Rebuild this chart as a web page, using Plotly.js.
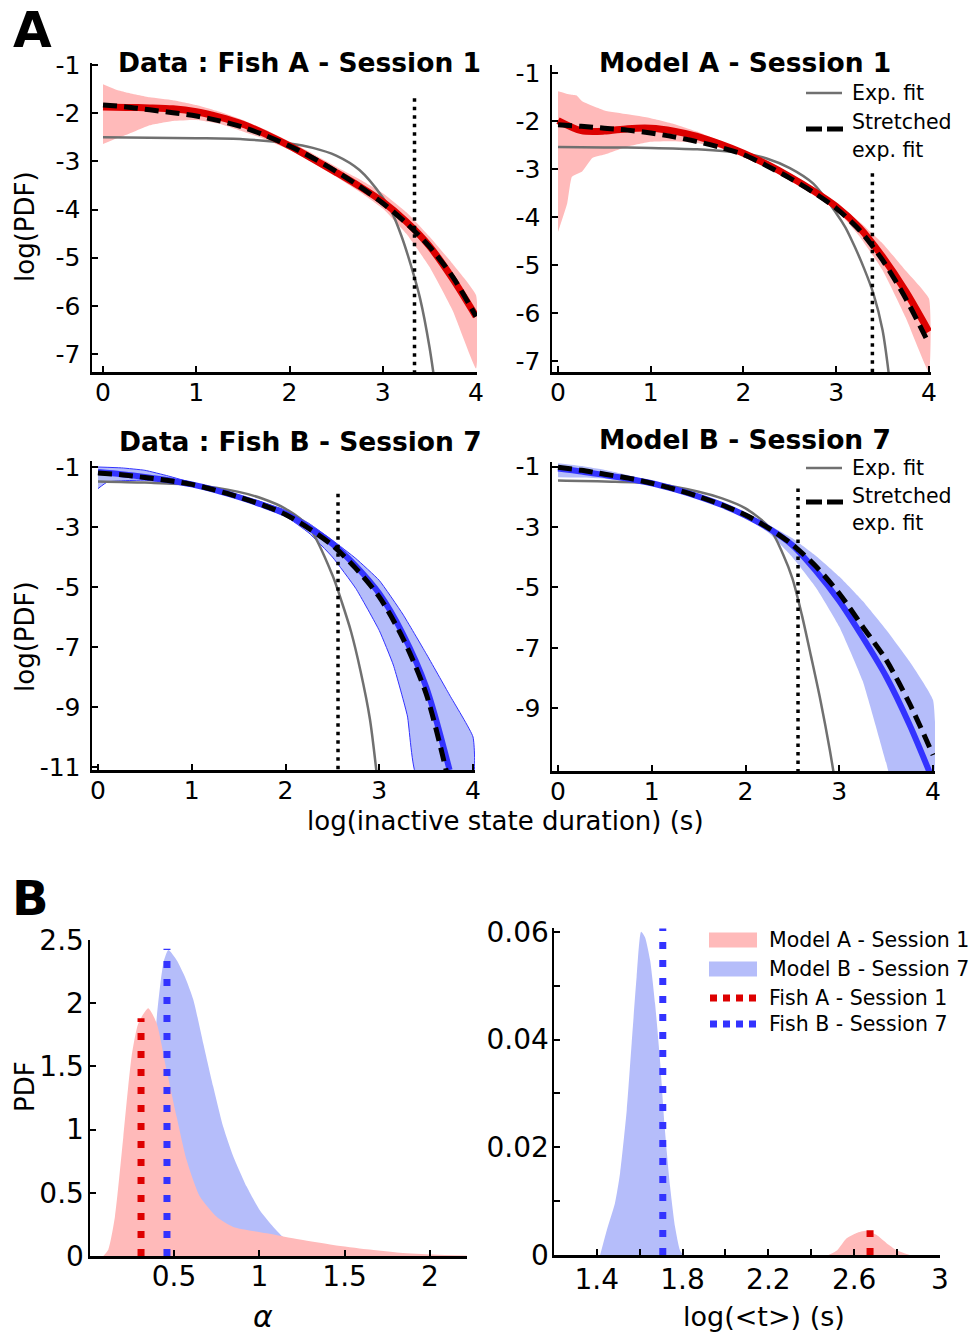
<!DOCTYPE html>
<html><head><meta charset="utf-8">
<script src="https://cdn.plot.ly/plotly-3.0.1.min.js"></script>
<style>html,body{margin:0;padding:0;background:#fff}#chart{width:970px;height:1336px}</style>
</head><body><div id="chart"></div>
<script>
// ---------- Panel A1 : Data Fish A - Session 1 ----------
const a1X = [0,0.25,0.5,0.75,1,1.25,1.5,1.75,2,2.25,2.5,2.75,3,3.25,3.5,3.75,4];
const a1Mean = [-1.87,-1.88,-1.89,-1.91,-1.97,-2.08,-2.23,-2.44,-2.68,-2.95,-3.23,-3.52,-3.84,-4.25,-4.76,-5.44,-6.22];
const a1Stretch = [-1.83,-1.87,-1.93,-1.99,-2.06,-2.16,-2.29,-2.47,-2.68,-2.93,-3.21,-3.52,-3.87,-4.28,-4.77,-5.40,-6.22];
const a1ExpX = [0,0.5,1,1.5,2,2.25,2.5,2.75,3,3.1,3.2,3.3,3.4,3.5,3.6];
const a1Exp = [-2.50,-2.51,-2.52,-2.54,-2.63,-2.72,-2.88,-3.18,-3.75,-4.07,-4.55,-5.15,-5.85,-6.85,-8.2];
const a1BandX = [0,0.15,0.25,0.5,0.75,1,1.25,1.5,1.75,2,2.25,2.5,2.75,3,3.25,3.5,3.75,4];
const a1Up = [-1.40,-1.52,-1.57,-1.67,-1.73,-1.83,-1.97,-2.14,-2.35,-2.59,-2.84,-3.11,-3.37,-3.66,-4.05,-4.56,-5.13,-5.78];
const a1Lo = [-2.64,-2.52,-2.45,-2.25,-2.16,-2.14,-2.22,-2.38,-2.55,-2.76,-3.03,-3.32,-3.63,-3.98,-4.50,-5.19,-6.10,-7.30];
const a1CutX = [3.34,3.34];
const a1CutY = [-1.69,-7.5];

// ---------- Panel A2 : Model A - Session 1 ----------
const a2X = [0,0.25,0.5,0.75,1,1.25,1.5,1.75,2,2.25,2.5,2.75,3,3.25,3.5,3.75,4];
const a2Mean = [-1.99,-2.20,-2.21,-2.16,-2.15,-2.21,-2.32,-2.48,-2.67,-2.90,-3.16,-3.45,-3.78,-4.22,-4.83,-5.55,-6.39];
const a2Stretch = [-2.08,-2.11,-2.15,-2.19,-2.25,-2.33,-2.43,-2.55,-2.70,-2.93,-3.19,-3.48,-3.82,-4.27,-4.90,-5.70,-6.64];
const a2ExpX = [0,0.5,1,1.5,2,2.25,2.5,2.75,3,3.1,3.2,3.3,3.4,3.5,3.6];
const a2Exp = [-2.54,-2.55,-2.56,-2.59,-2.67,-2.78,-2.98,-3.30,-3.92,-4.22,-4.62,-5.07,-5.59,-6.36,-7.8];
const a2UpX = [0,0.13,0.2,0.26,0.5,0.75,1,1.25,1.5,1.75,2,2.25,2.5,2.75,3,3.25,3.5,3.75,4];
const a2Up = [-1.38,-1.45,-1.47,-1.59,-1.78,-1.86,-1.94,-2.06,-2.22,-2.42,-2.64,-2.85,-3.09,-3.38,-3.71,-4.10,-4.55,-5.12,-5.70];
const a2LoX = [0,0.1,0.15,0.26,0.37,0.5,0.75,1,1.25,1.5,1.75,2,2.25,2.5,2.75,3,3.25,3.5,3.75,4];
const a2Lo = [-4.31,-3.71,-3.16,-3.05,-2.77,-2.70,-2.53,-2.43,-2.42,-2.46,-2.57,-2.74,-2.97,-3.23,-3.52,-3.85,-4.40,-5.11,-6.10,-7.23];
const a2CutX = [3.39,3.39];
const a2CutY = [-3.09,-7.5];

// ---------- Panel A3 : Data Fish B - Session 7 ----------
const a3X = [0,0.25,0.5,0.75,1,1.25,1.5,1.75,2,2.25,2.5,2.75,3,3.25,3.5,3.75];
const a3Mean = [-1.17,-1.24,-1.33,-1.44,-1.58,-1.77,-2.00,-2.26,-2.56,-3.02,-3.56,-4.30,-5.22,-6.55,-8.33,-11.1];
const a3Stretch = [-1.20,-1.26,-1.35,-1.45,-1.58,-1.77,-2.00,-2.26,-2.58,-3.05,-3.61,-4.38,-5.33,-6.70,-8.56,-11.6];
const a3ExpX = [0,0.5,1,1.5,1.75,2,2.25,2.5,2.6,2.7,2.8,2.9,3.0];
const a3Exp = [-1.48,-1.52,-1.59,-1.83,-2.05,-2.39,-3.0,-4.6,-5.5,-6.5,-7.8,-9.4,-12.0];
const a3UpX = [0,0.25,0.5,0.75,1,1.25,1.5,1.75,2,2.25,2.5,2.75,3,3.25,3.5,3.75,4,4];
const a3Up = [-1.00,-1.03,-1.11,-1.30,-1.52,-1.72,-1.94,-2.17,-2.44,-2.88,-3.44,-4.05,-4.78,-5.90,-7.22,-8.6,-10.0,-11.3];
const a3LoX = [0,0.1,0.25,0.5,0.75,1,1.25,1.5,1.75,2,2.25,2.5,2.75,3,3.15,3.3,3.4];
const a3Lo = [-1.72,-1.50,-1.46,-1.44,-1.52,-1.64,-1.83,-2.06,-2.33,-2.64,-3.20,-4.00,-5.05,-6.45,-7.6,-9.3,-11.3];
const a3CutX = [2.56,2.56];
const a3CutY = [-1.89,-11.3];

// ---------- Panel A4 : Model B - Session 7 ----------
const a4X = [0,0.25,0.5,0.75,1,1.25,1.5,1.75,2,2.25,2.5,2.75,3,3.25,3.5,3.75,4];
const a4Mean = [-1.06,-1.16,-1.28,-1.40,-1.55,-1.75,-1.99,-2.27,-2.62,-3.05,-3.60,-4.45,-5.45,-6.65,-7.95,-9.55,-11.4];
const a4Stretch = [-1.02,-1.12,-1.25,-1.38,-1.55,-1.75,-1.99,-2.27,-2.60,-3.04,-3.58,-4.30,-5.20,-6.30,-7.40,-8.85,-10.55];
const a4ExpX = [0,0.5,1,1.5,1.75,2,2.25,2.4,2.5,2.6,2.7,2.8,2.9,3.0];
const a4Exp = [-1.46,-1.49,-1.55,-1.83,-2.05,-2.38,-3.0,-3.9,-4.7,-5.9,-7.3,-8.75,-10.4,-12.3];
const a4UpX = [0,0.25,0.5,0.75,1,1.25,1.5,1.75,2,2.25,2.5,2.75,3,3.25,3.5,3.75,4,4];
const a4Up = [-0.89,-0.98,-1.11,-1.28,-1.50,-1.72,-1.96,-2.23,-2.55,-2.93,-3.37,-3.95,-4.64,-5.45,-6.4,-7.45,-8.73,-11.3];
const a4LoX = [0,0.25,0.5,0.75,1,1.25,1.5,1.75,2,2.25,2.5,2.75,3,3.25,3.5,3.55];
const a4Lo = [-1.35,-1.36,-1.40,-1.48,-1.61,-1.80,-2.05,-2.33,-2.66,-3.20,-4.00,-5.00,-6.30,-8.10,-10.8,-11.3];
const a4CutX = [2.56,2.56];
const a4CutY = [-1.72,-11.3];

// ---------- Panel B1 : alpha ----------
const b1PinkX = [0.086,0.115,0.154,0.203,0.252,0.291,0.349,0.399,0.457,0.516,0.574,0.652,0.75,0.847,1.043,1.238,1.433,1.629,1.824,2.019,2.215];
const b1PinkY = [0,0.05,0.31,0.94,1.58,1.84,1.96,1.84,1.47,1.10,0.76,0.47,0.31,0.23,0.18,0.13,0.087,0.053,0.026,0.011,0.003];
const b1BlueX = [0.30,0.35,0.38,0.40,0.42,0.44,0.467,0.516,0.564,0.613,0.672,0.730,0.789,0.847,0.926,1.004,1.082,1.140,1.2,1.3];
const b1BlueY = [0,0.8,1.5,1.9,2.15,2.33,2.42,2.34,2.21,2.03,1.68,1.34,1.02,0.79,0.55,0.36,0.23,0.15,0.1,0.05];
const b1FishAX = [0.307,0.307], b1FishAY = [0,1.88];
const b1FishBX = [0.459,0.459], b1FishBY = [0,2.43];

// ---------- Panel B2 : log(<t>) ----------
const b2BlueX = [1.416,1.447,1.485,1.509,1.540,1.563,1.586,1.607,1.625,1.649,1.672,1.695,1.718,1.742,1.765,1.788,1.804];
const b2BlueY = [0,0.0046,0.0096,0.0152,0.0269,0.0393,0.0516,0.0600,0.0590,0.0547,0.0467,0.0362,0.0232,0.0127,0.0053,0.0009,0];
const b2PinkX = [2.48,2.521,2.565,2.611,2.658,2.705,2.751,2.798,2.86];
const b2PinkY = [0,0.0009,0.0031,0.0041,0.0045,0.0037,0.0022,0.0009,0];
const b2FishAX = [2.674,2.674], b2FishAY = [0,0.0046];
const b2FishBX = [1.708,1.708], b2FishBY = [0,0.0606];

// ---------- styling ----------
const FONT = 'DejaVu Sans';
const PINK = 'rgb(255,186,186)', BLUEF = 'rgb(181,189,250)';
const RED = 'rgb(221,0,0)', BLUE = 'rgb(51,51,255)', GRAY = 'rgb(112,112,112)';
const W = 970, H = 1336;
const px = v => v / W, py = v => 1 - v / H;

function band(xu, yu, xl, yl, ax, ay, color, edge) {
  return {x: xu.concat(xl.slice().reverse()), y: yu.concat(yl.slice().reverse()),
    xaxis: ax, yaxis: ay, mode: 'lines', fill: 'toself', fillcolor: color,
    line: edge ? {color: edge, width: 1, shape: 'spline', smoothing: 0.4} : {width: 0, shape: 'spline', smoothing: 0.4},
    hoverinfo: 'skip', showlegend: false};
}
function line(x, y, ax, ay, color, width, dash, shape) {
  return {x: x, y: y, xaxis: ax, yaxis: ay, mode: 'lines',
    line: {color: color, width: width, dash: dash || 'solid', shape: shape || 'spline', smoothing: 0.8},
    hoverinfo: 'skip', showlegend: false};
}
function area(x, y, ax, ay, color) {
  return {x: x, y: y, xaxis: ax, yaxis: ay, mode: 'lines', fill: 'tozeroy', fillcolor: color,
    line: {width: 0, shape: 'spline', smoothing: 0.6}, hoverinfo: 'skip', showlegend: false};
}
const DASH = '14px,7px', CUT = '3.5px,5px', FISH = '7px,11px';

const traces = [
  band(a1BandX, a1Up, a1BandX, a1Lo, 'x', 'y', PINK),
  line(a1ExpX, a1Exp, 'x', 'y', GRAY, 2.5),
  line(a1X, a1Mean, 'x', 'y', RED, 7),
  line(a1X, a1Stretch, 'x', 'y', 'black', 5, DASH),
  line(a1CutX, a1CutY, 'x', 'y', 'black', 3.5, CUT, 'linear'),

  band(a2UpX, a2Up, a2LoX, a2Lo, 'x2', 'y2', PINK),
  line(a2ExpX, a2Exp, 'x2', 'y2', GRAY, 2.5),
  line(a2X, a2Mean, 'x2', 'y2', RED, 7),
  line(a2X, a2Stretch, 'x2', 'y2', 'black', 5, DASH),
  line(a2CutX, a2CutY, 'x2', 'y2', 'black', 3.5, CUT, 'linear'),

  band(a3UpX, a3Up, a3LoX, a3Lo, 'x3', 'y3', BLUEF, BLUE),
  line(a3ExpX, a3Exp, 'x3', 'y3', GRAY, 2.5),
  line(a3X, a3Mean, 'x3', 'y3', BLUE, 6),
  line(a3X, a3Stretch, 'x3', 'y3', 'black', 5, DASH),
  line(a3CutX, a3CutY, 'x3', 'y3', 'black', 3.5, CUT, 'linear'),

  band(a4UpX, a4Up, a4LoX, a4Lo, 'x4', 'y4', BLUEF),
  line(a4ExpX, a4Exp, 'x4', 'y4', GRAY, 2.5),
  line(a4X, a4Mean, 'x4', 'y4', BLUE, 6),
  line(a4X, a4Stretch, 'x4', 'y4', 'black', 5, DASH),
  line(a4CutX, a4CutY, 'x4', 'y4', 'black', 3.5, CUT, 'linear'),

  area(b1BlueX, b1BlueY, 'x5', 'y5', BLUEF),
  area(b1PinkX, b1PinkY, 'x5', 'y5', PINK),
  line(b1FishAX, b1FishAY, 'x5', 'y5', RED, 7, FISH, 'linear'),
  line(b1FishBX, b1FishBY, 'x5', 'y5', BLUE, 7, FISH, 'linear'),

  area(b2BlueX, b2BlueY, 'x6', 'y6', BLUEF),
  area(b2PinkX, b2PinkY, 'x6', 'y6', PINK),
  line(b2FishAX, b2FishAY, 'x6', 'y6', RED, 7, FISH, 'linear'),
  line(b2FishBX, b2FishBY, 'x6', 'y6', BLUE, 7, FISH, 'linear')
];

function axis(dom, range, tickvals, ticktext, size, anchor, extra) {
  return Object.assign({
    domain: dom, range: range, anchor: anchor, showline: true, linewidth: 2.5, linecolor: 'black',
    mirror: false, ticks: 'inside', ticklen: 6, tickwidth: 2, tickcolor: 'black',
    showgrid: false, zeroline: false, tickmode: 'array', tickvals: tickvals, ticktext: ticktext,
    tickfont: {family: FONT, size: size, color: 'black'}, fixedrange: true
  }, extra || {});
}
const xA = [0,1,2,3,4], xAt = ['0','1','2','3','4'];
const TA = 25, TB = 28;

const layout = {
  width: W, height: H, margin: {l: 0, r: 0, t: 0, b: 0},
  paper_bgcolor: 'white', plot_bgcolor: 'rgba(0,0,0,0)', showlegend: false,
  font: {family: FONT, color: 'black'},
  xaxis:  axis([px(92), px(477)], [-0.118, 4.01], xA, xAt, TA, 'y', {ticklabelstandoff: -4}),
  yaxis:  axis([py(372), py(63)], [-7.374, -0.958], [-7,-6,-5,-4,-3,-2,-1], ['-7','-6','-5','-4','-3','-2','-1'], TA, 'x', {ticklabelstandoff: 4}),
  xaxis2: axis([px(552), px(931)], [-0.065, 4.022], xA, xAt, TA, 'y2', {ticklabelstandoff: -4}),
  yaxis2: axis([py(372), py(65)], [-7.229, -0.833], [-7,-6,-5,-4,-3,-2,-1], ['-7','-6','-5','-4','-3','-2','-1'], TA, 'x2', {ticklabelstandoff: 4}),
  xaxis3: axis([px(92), px(475)], [-0.064, 4.021], xA, xAt, TA, 'y3', {ticklabelstandoff: -4}),
  yaxis3: axis([py(770), py(461)], [-11.1, -0.8], [-11,-9,-7,-5,-3,-1], ['-11','-9','-7','-5','-3','-1'], TA, 'x3', {ticklabelstandoff: 4}),
  xaxis4: axis([px(552), px(935)], [-0.064, 4.021], xA, xAt, TA, 'y4', {ticklabelstandoff: -4}),
  yaxis4: axis([py(771), py(462)], [-11.08, -0.845], [-9,-7,-5,-3,-1], ['-9','-7','-5','-3','-1'], TA, 'x4', {ticklabelstandoff: 4}),
  xaxis5: axis([px(90), px(467)], [0.008, 2.217], [0.5,1,1.5,2], ['0.5','1','1.5','2'], TB, 'y5', {ticklabelstandoff: -6}),
  yaxis5: axis([py(1256), py(940)], [0, 2.5], [0,0.5,1,1.5,2,2.5], ['0','0.5','1','1.5','2','2.5'], TB, 'x5', {ticklabelstandoff: -2}),
  xaxis6: axis([px(554), px(940)], [1.201, 3.0], [1.4,1.8,2.2,2.6,3], ['1.4','1.8','2.2','2.6','3'], TB, 'y6',
    {ticklabelstandoff: -2, minor: {tickmode: 'array', tickvals: [1.6,2.0,2.4,2.8], ticks: 'inside', ticklen: 6, tickwidth: 2, tickcolor: 'black'}}),
  yaxis6: axis([py(1255), py(928)], [0, 0.0607], [0,0.02,0.04,0.06], ['0','0.02','0.04','0.06'], TB, 'x6',
    {ticklabelstandoff: -3, minor: {tickmode: 'array', tickvals: [0.01,0.03,0.05], ticks: 'inside', ticklen: 6, tickwidth: 2, tickcolor: 'black'}}),
  annotations: [], shapes: []
};

function txt(t, x, y, size, opts) {
  layout.annotations.push(Object.assign({text: t, x: px(x), y: py(y), xref: 'paper', yref: 'paper',
    showarrow: false, xanchor: 'center', yanchor: 'middle',
    font: {family: FONT, size: size, color: 'black'}}, opts || {}));
}
// panel letters and titles
txt('<b>A</b>', 32, 0, 50, {yanchor: 'top', borderpad: 0});
txt('<b>B</b>', 31, 898, 48);
txt('<b>Data : Fish A - Session 1</b>', 299, 63, 26.5);
txt('<b>Model A - Session 1</b>', 745, 63, 26.5);
txt('<b>Data : Fish B - Session 7</b>', 300, 441, 26.5);
txt('<b>Model B - Session 7</b>', 745, 439, 26.5);
// axis titles
txt('log(PDF)', 25, 227, 26, {textangle: -90});
txt('log(PDF)', 25, 637, 26, {textangle: -90});
txt('PDF', 25, 1087, 26, {textangle: -90});
txt('log(inactive state duration) (s)', 505, 821, 26);
txt('<i>α</i>', 263, 1316, 30);
txt('log(&lt;t&gt;) (s)', 764, 1316, 27);

// fit legends in A2 and A4
function fitLegend(y0, dy1, dy2, dDash) {
  layout.shapes.push({type: 'line', xref: 'paper', yref: 'paper', x0: px(806), x1: px(842), y0: py(y0), y1: py(y0), line: {color: GRAY, width: 2.5}});
  layout.shapes.push({type: 'line', xref: 'paper', yref: 'paper', x0: px(806), x1: px(843), y0: py(y0 + dDash), y1: py(y0 + dDash), line: {color: 'black', width: 5, dash: '16px,5px'}});
  txt('Exp. fit', 850, y0, 20.5, {xanchor: 'left'});
  txt('Stretched', 850, y0 + dy1, 20.5, {xanchor: 'left'});
  txt('exp. fit', 850, y0 + dy2, 20.5, {xanchor: 'left'});
}
fitLegend(93, 29, 57, 36);
fitLegend(468, 28, 55, 34);

// B legend
const legItems = [
  {label: 'Model A - Session 1', kind: 'rect', color: PINK, y: 940},
  {label: 'Model B - Session 7', kind: 'rect', color: BLUEF, y: 969},
  {label: 'Fish A - Session 1', kind: 'dot', color: RED, y: 998},
  {label: 'Fish B - Session 7', kind: 'dot', color: BLUE, y: 1024}
];
legItems.forEach(it => {
  if (it.kind === 'rect') {
    layout.shapes.push({type: 'rect', xref: 'paper', yref: 'paper', x0: px(709), x1: px(757), y0: py(it.y + 7.5), y1: py(it.y - 7.5), fillcolor: it.color, line: {width: 0}});
  } else {
    layout.shapes.push({type: 'line', xref: 'paper', yref: 'paper', x0: px(710), x1: px(757), y0: py(it.y), y1: py(it.y), line: {color: it.color, width: 7, dash: '7px,6px'}});
  }
  txt(it.label, 767, it.y, 20.5, {xanchor: 'left'});
});

Plotly.newPlot('chart', traces, layout, {staticPlot: true, displayModeBar: false});
</script></body></html>
